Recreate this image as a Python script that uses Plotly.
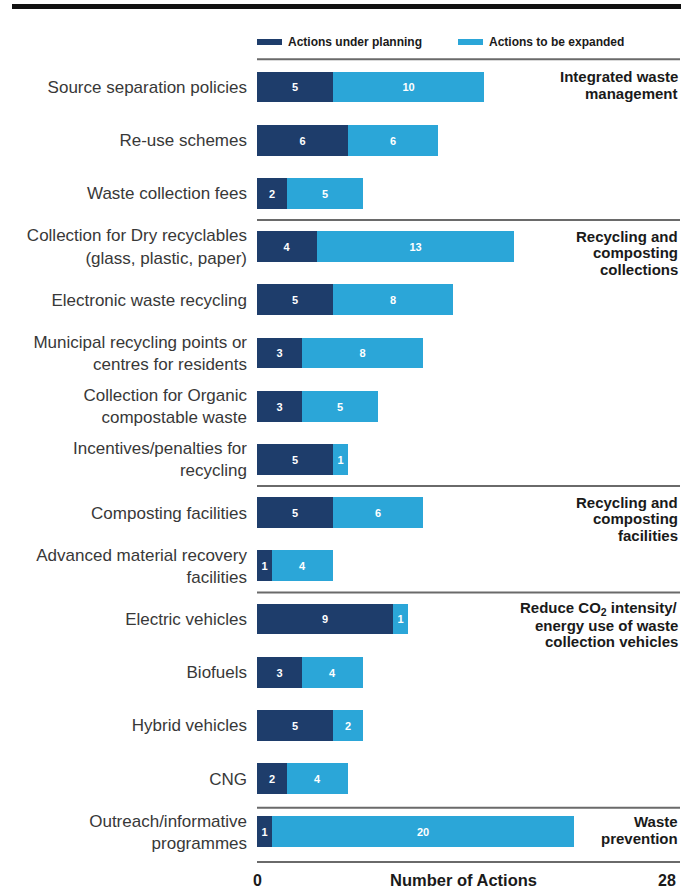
import plotly.graph_objects as go

categories = [
    "Source separation policies",
    "Re-use schemes",
    "Waste collection fees",
    "Collection for Dry recyclables<br>(glass, plastic, paper)",
    "Electronic waste recycling",
    "Municipal recycling points or<br>centres for residents",
    "Collection for Organic<br>compostable waste",
    "Incentives/penalties for<br>recycling",
    "Composting facilities",
    "Advanced material recovery<br>facilities",
    "Electric vehicles",
    "Biofuels",
    "Hybrid vehicles",
    "CNG",
    "Outreach/informative<br>programmes",
]
under_planning = [5, 6, 2, 4, 5, 3, 3, 5, 5, 1, 9, 3, 5, 2, 1]
to_be_expanded = [10, 6, 5, 13, 8, 8, 5, 1, 6, 4, 1, 4, 2, 4, 20]

group_lines = [
    (["Integrated waste", "management"], 0),
    (["Recycling and", "composting", "collections"], 3),
    (["Recycling and", "composting", "facilities"], 8),
    (["Reduce CO<sub>2</sub> intensity/", "energy use of waste", "collection vehicles"], 10),
    (["Waste", "prevention"], 14),
]
separators = [-0.52, 2.5, 7.5, 9.5, 13.55, 14.57]
series_names = ["Actions under planning", "Actions to be expanded"]
x_max = 28

DARK = "#1e3d6b"
LIGHT = "#2ba6d8"
FONT = "Liberation Sans, Arial, sans-serif"

W, H = 683, 890
ML, MR = 257, 3
PW = W - ML - MR


def px2x(p):
    return (p - ML) / PW


def px2y(p):
    return 1 - p / H


pos = list(range(len(categories)))

fig = go.Figure()
for name, vals, col in [(series_names[0], under_planning, DARK),
                        (series_names[1], to_be_expanded, LIGHT)]:
    fig.add_trace(go.Bar(
        name=name, orientation="h", x=vals, y=pos, width=0.58,
        marker=dict(color=col, line=dict(width=0)),
        text=vals, texttemplate="<b>%{text}</b>",
        textposition="inside", insidetextanchor="middle",
        textfont=dict(color="white", size=11, family=FONT),
        showlegend=False, hoverinfo="skip",
    ))

shapes = []
shapes.append(dict(type="line", xref="paper", yref="paper",
                   x0=px2x(12), x1=px2x(681), y0=px2y(6.5), y1=px2y(6.5),
                   line=dict(color="#111111", width=5)))
for s in separators:
    shapes.append(dict(type="line", xref="paper", yref="y",
                       x0=0, x1=px2x(680), y0=s, y1=s,
                       line=dict(color="#6a6a6a", width=2)))
annotations = []
for i, (name, col) in enumerate(zip(series_names, [DARK, LIGHT])):
    x0 = 257 if i == 0 else 458
    shapes.append(dict(type="rect", xref="paper", yref="paper",
                       x0=px2x(x0), x1=px2x(x0 + 25), y0=px2y(45), y1=px2y(39),
                       fillcolor=col, line=dict(width=0)))
    annotations.append(dict(xref="paper", yref="paper", x=px2x(x0 + 29), y=px2y(41.5),
                            xanchor="left", yanchor="middle", showarrow=False,
                            text="<b>" + name + "</b>",
                            font=dict(size=12, color="#1a1a1a", family=FONT)))

for lines, row in group_lines:
    for k, line in enumerate(lines):
        annotations.append(dict(xref="paper", yref="y", x=px2x(680),
                                y=row - 0.19 + k * 0.31,
                                xanchor="right", yanchor="middle", align="right",
                                showarrow=False, text="<b>" + line + "</b>",
                                font=dict(size=15, color="#1a1a1a", family=FONT)))

annotations.append(dict(xref="paper", yref="paper", x=0, y=px2y(880),
                        xanchor="center", yanchor="middle", showarrow=False,
                        text="<b>0</b>", font=dict(size=16, color="#1a1a1a", family=FONT)))
annotations.append(dict(xref="paper", yref="paper", x=px2x(463), y=px2y(880),
                        xanchor="center", yanchor="middle", showarrow=False,
                        text="<b>Number of Actions</b>",
                        font=dict(size=16.5, color="#1a1a1a", family=FONT)))
annotations.append(dict(xref="paper", yref="paper", x=px2x(678), y=px2y(880),
                        xanchor="right", yanchor="middle", showarrow=False,
                        text="<b>%d</b>" % x_max,
                        font=dict(size=16, color="#1a1a1a", family=FONT)))

fig.update_layout(
    width=W, height=H,
    margin=dict(l=ML, r=MR, t=0, b=0),
    paper_bgcolor="white", plot_bgcolor="white",
    barmode="stack", bargap=0,
    shapes=shapes, annotations=annotations,
    xaxis=dict(range=[0, x_max], visible=False),
    yaxis=dict(range=[15.094, -1.635], tickmode="array", tickvals=pos,
               ticktext=categories, showgrid=False, zeroline=False,
               showline=False, ticks="", ticklabelstandoff=9,
               tickfont=dict(size=17, color="#383838", family=FONT)),
    font=dict(family=FONT),
)

fig.write_html("out.html", config={"displayModeBar": False},
               post_script="document.body.style.margin='0';document.body.style.overflow='hidden';")
